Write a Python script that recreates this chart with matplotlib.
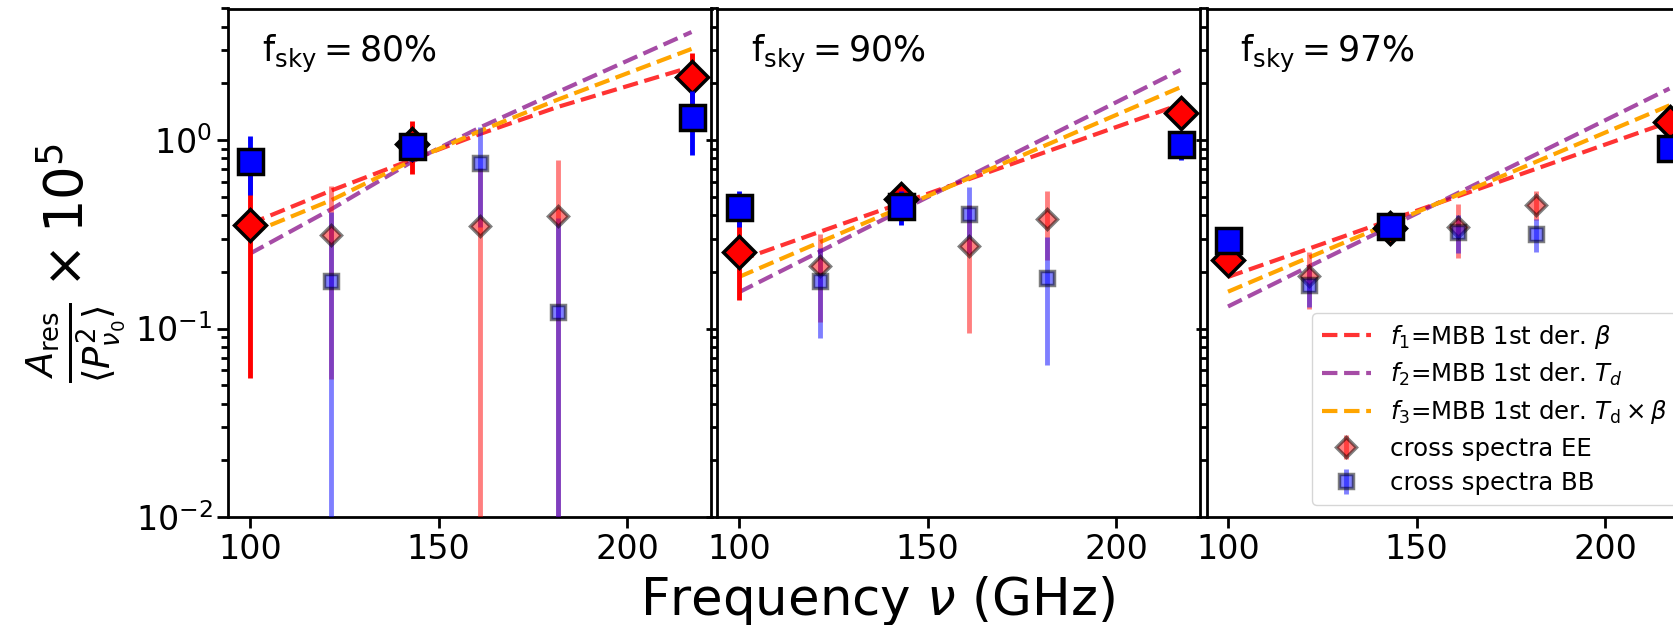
import numpy as np
import matplotlib
matplotlib.use("Agg")
import matplotlib.pyplot as plt

# frequencies (GHz)
freq_main = [100, 143, 217]
freq_cross = [121.5, 161, 181.5]
freq_model = [100, 121.5, 143, 161, 181.5, 217]

fsky_labels = ["80", "90", "97"]

# A_res / <P^2> x 1e5, one row per fsky
ee_main = [[0.355, 0.96, 2.17], [0.255, 0.49, 1.39], [0.231, 0.342, 1.25]]
ee_main_err = [[0.30, 0.30, 0.72], [0.114, 0.05, 0.10], [0.03, 0.03, 0.08]]
bb_main = [[0.78, 0.93, 1.33], [0.442, 0.446, 0.953], [0.294, 0.351, 0.914]]
bb_main_err = [[0.27, 0.15, 0.50], [0.094, 0.09, 0.17], [0.03, 0.03, 0.06]]

ee_cross = [[0.314, 0.351, 0.397], [0.214, 0.273, 0.384], [0.191, 0.347, 0.455]]
ee_cross_err = [[0.26, 0.36, 0.39], [0.105, 0.178, 0.154], [0.064, 0.11, 0.08]]
bb_cross = [[0.178, 0.758, 0.122], [0.179, 0.408, 0.186], [0.170, 0.326, 0.319]]
bb_cross_err = [[0.24, 0.41, 0.265], [0.09, 0.157, 0.122], [0.04, 0.075, 0.065]]

# model curves
f1_beta = [[0.36, 0.54, 0.79, 1.08, 1.50, 2.45],
           [0.23, 0.327, 0.463, 0.622, 0.869, 1.55],
           [0.188, 0.266, 0.377, 0.505, 0.703, 1.25]]
f2_td = [[0.25, 0.43, 0.77, 1.17, 1.80, 3.75],
         [0.156, 0.257, 0.424, 0.644, 1.036, 2.36],
         [0.131, 0.214, 0.348, 0.525, 0.838, 1.88]]
f3_tdbeta = [[0.32, 0.48, 0.78, 1.12, 1.64, 3.05],
             [0.188, 0.288, 0.440, 0.629, 0.944, 1.91],
             [0.157, 0.239, 0.362, 0.514, 0.766, 1.53]]

W, H = 1674, 625
fig = plt.figure(figsize=(W / 100, H / 100), dpi=100)

ax_w = 483 / W
ax_b = (H - 517) / H
ax_h = 508.5 / H
lefts = [228.5 / W, 717.5 / W, 1206.5 / W]

axes = []
for i, left in enumerate(lefts):
    ax = fig.add_axes([left, ax_b, ax_w, ax_h])
    axes.append(ax)

    ax.plot(freq_model, f1_beta[i], '--', color='red', alpha=0.8, lw=3,
            label=r'$f_1$=MBB 1st der. $\beta$', zorder=2)
    ax.plot(freq_model, f2_td[i], '--', color='purple', alpha=0.7, lw=3,
            label=r'$f_2$=MBB 1st der. $T_d$', zorder=2)
    ax.plot(freq_model, f3_tdbeta[i], '--', color='orange', lw=3,
            label=r'$f_3$=MBB 1st der. $T_{\rm d}\times\beta$', zorder=2)

    ax.errorbar(freq_cross, ee_cross[i], yerr=ee_cross_err[i], fmt='D',
                color='red', mfc='red', mec='k', ms=10.5, mew=2.5,
                elinewidth=3.5, alpha=0.5, label='cross spectra EE', zorder=3)
    ax.errorbar(freq_cross, bb_cross[i], yerr=bb_cross_err[i], fmt='s',
                color='blue', mfc='blue', mec='k', ms=10.5, mew=2.5,
                elinewidth=3.5, alpha=0.5, label='cross spectra BB', zorder=3)

    ax.errorbar(freq_main, ee_main[i], yerr=ee_main_err[i], fmt='D',
                color='red', mfc='red', mec='k', ms=16.5, mew=2.5,
                elinewidth=3.5, zorder=4)
    ax.errorbar(freq_main, bb_main[i], yerr=bb_main_err[i], fmt='s',
                color='blue', mfc='blue', mec='k', ms=18, mew=2.5,
                elinewidth=3.5, zorder=5)

    ax.set_yscale('log')
    ax.set_ylim(1e-2, 5)
    ax.set_xlim(94.3, 222.3)
    ax.set_xticks([100, 150, 200])
    for s in ax.spines.values():
        s.set_linewidth(2)
    ax.tick_params(axis='both', which='major', labelsize=24, width=2, length=8)
    ax.tick_params(axis='y', which='minor', width=2, length=5)
    if i > 0:
        ax.tick_params(axis='y', which='both', labelleft=False)

    ax.text(0.0685, 0.895, r'$\mathrm{f_{sky}} = %s\%%$' % fsky_labels[i],
            transform=ax.transAxes, fontsize=25, va='baseline', ha='left')

axes[0].set_ylabel(r'$\frac{A_{\rm res}}{\langle P^2_{\nu_0}\rangle}\times 10^5$',
                   fontsize=38, labelpad=6)

axes[2].legend(loc='lower right', fontsize=17.6, labelspacing=0.42,
               framealpha=0.8)

fig.text(0.524, 0.016, r'Frequency $\nu$ (GHz)', fontsize=37,
         ha='center', va='baseline')

fig.savefig('out.png', dpi=100)
